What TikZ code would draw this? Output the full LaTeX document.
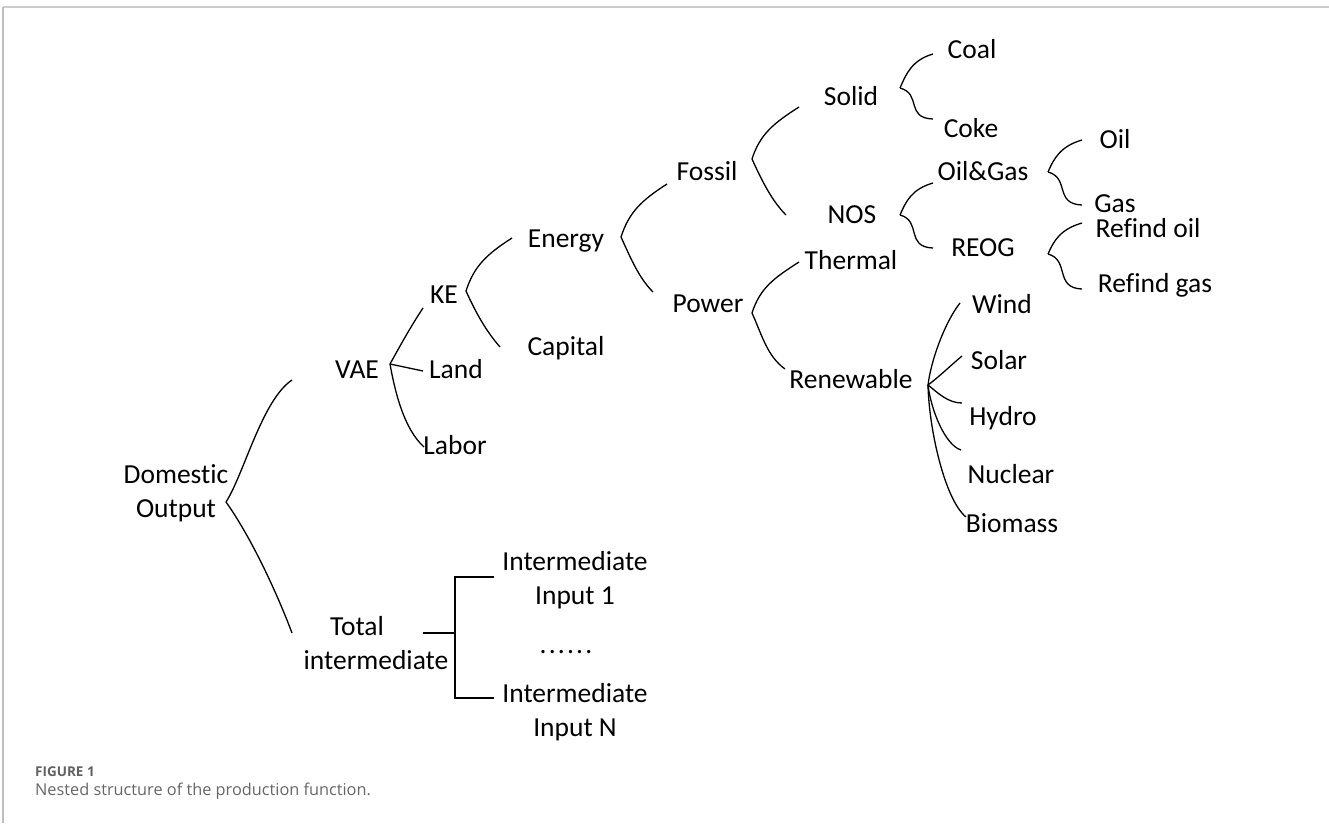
\documentclass[tikz,border=0pt]{standalone}
\usepackage{fontspec}
\setmainfont{Carlito}[Ligatures=NoCommon]
\newfontfamily\capfont{Open Sans}
\begin{document}
\begin{tikzpicture}[x=1pt,y=-1pt,
  lbl/.style={anchor=base, inner sep=0pt, align=center, font=\fontsize{27.5}{34}\selectfont},
  conn/.style={line width=1.3pt, black},
  framel/.style={line width=1.6pt, draw=black!20}]
\useasboundingbox (0,0) rectangle (1329,823);
% frame
\draw[framel] (3,7) -- (1329,7);
\draw[framel, draw=black!25] (3,7) -- (3,823);
% nodes (base = baseline of last line)
\node[lbl] (dom) at (176,517) {Domestic\\Output};
\node[lbl] (vae) at (357,378) {VAE};
\node[lbl] (tot) at (376,669) {\hspace*{-38pt}Total\\intermediate};
\node[lbl] (ke) at (444,303) {KE};
\node[lbl] (land) at (456,378) {Land};
\node[lbl] (labor) at (455,454) {Labor};
\node[lbl] (energy) at (566,247) {Energy};
\node[lbl] (capital) at (566,355) {Capital};
\node[lbl] (fossil) at (707,180) {Fossil};
\node[lbl] (power) at (708,312) {Power};
\node[lbl] (solid) at (851,105) {Solid};
\node[lbl] (nos) at (852,223) {NOS};
\node[lbl] (thermal) at (851,269) {Thermal};
\node[lbl] (renew) at (851,388) {Renewable};
\node[lbl] (coal) at (972,58) {Coal};
\node[lbl] (coke) at (971,137) {Coke};
\node[lbl] (oilgas) at (983,180) {Oil\&Gas};
\node[lbl] (reog) at (983,256) {REOG};
\node[lbl] (oil) at (1115,148) {Oil};
\node[lbl] (gas) at (1115,212) {Gas};
\node[lbl] (roil) at (1148,237) {Refind oil};
\node[lbl] (rgas) at (1155,292) {Refind gas};
\node[lbl] (wind) at (1002,313) {Wind};
\node[lbl] (solar) at (999,369) {Solar};
\node[lbl] (hydro) at (1003,425) {Hydro};
\node[lbl] (nuclear) at (1011,483) {Nuclear};
\node[lbl] (biomass) at (1012,532) {Biomass};
\node[lbl] (int1) at (575,604) {Intermediate\\Input 1};
\node[lbl] (dots) at (566,653) {\addfontfeature{LetterSpace=8}......};
\node[lbl] (intn) at (575,736) {Intermediate\\Input N};
% caption
\node[anchor=base west, inner sep=0pt, text=black!62, font=\capfont\bfseries\fontsize{13.5}{16}\selectfont] (figlbl) at (35,776) {FIGURE 1};
\node[anchor=base west, inner sep=0pt, text=black!60, font=\capfont\fontsize{16.3}{19}\selectfont] (caption) at (35,795) {Nested structure of the production function.};
% coordinates: tips and ends
\coordinate (tdom) at (226,502);
\coordinate (evae) at (292,380);
\coordinate (etot) at (292,633);
\coordinate (tvae) at (390,364);
\coordinate (eke) at (423,308);
\coordinate (eland) at (423,371);
\coordinate (elabor) at (424,447);
\coordinate (tke) at (466,291);
\coordinate (eenergy) at (512,238);
\coordinate (ecapital) at (500,347);
\coordinate (tenergy) at (621,237);
\coordinate (efossil) at (667,184);
\coordinate (epower) at (653,292);
\coordinate (tfossil) at (752,159);
\coordinate (esolid) at (799,107);
\coordinate (enos) at (786,215);
\coordinate (tpower) at (752,313);
\coordinate (ethermal) at (799,262);
\coordinate (erenew) at (785,369);
\coordinate (trenew) at (928,385);
\coordinate (ewind) at (960,303);
\coordinate (esolar) at (962,356);
\coordinate (ehydro) at (962,403);
\coordinate (enuclear) at (961,450);
\coordinate (ebiomass) at (966,517);
\coordinate (ttot) at (423,633);
\coordinate (bmid) at (455,633);
\coordinate (btop) at (455,577);
\coordinate (bbot) at (455,698);
\coordinate (eint1) at (494,577);
\coordinate (eintn) at (494,698);
% connectors
\draw[conn] (tdom) .. controls +(18,-28) and +(-30,20) .. (evae);
\draw[conn] (tdom) .. controls +(25,35) and +(-15,-40) .. (etot);
\draw[conn] (tvae) .. controls +(10,-18) and +(-12,18) .. (eke);
\draw[conn] (tvae) -- (eland);
\draw[conn] (tvae) .. controls +(5,28) and +(-20,-18) .. (elabor);
\draw[conn] (tke) .. controls +(8,-25) and +(-25,16) .. (eenergy);
\draw[conn] (tke) .. controls +(10,22) and +(-14,-16) .. (ecapital);
\draw[conn] (tenergy) .. controls +(8,-25) and +(-25,16) .. (efossil);
\draw[conn] (tenergy) .. controls +(10,22) and +(-14,-14) .. (epower);
\draw[conn] (tfossil) .. controls +(8,-25) and +(-25,16) .. (esolid);
\draw[conn] (tfossil) .. controls +(10,22) and +(-14,-14) .. (enos);
\draw[conn] (tpower) .. controls +(8,-25) and +(-25,16) .. (ethermal);
\draw[conn] (tpower) .. controls +(10,22) and +(-18,-13) .. (erenew);
% curly braces
\coordinate (tbsolid) at (900,88);
\coordinate (tbnos) at (900,215);
\coordinate (tbog) at (1048,172);
\coordinate (tbreog) at (1048,254);
\coordinate (eb1u) at (933,54);   \coordinate (eb1l) at (933,119);
\coordinate (eb2u) at (933,183);  \coordinate (eb2l) at (933,248);
\coordinate (eb3u) at (1082,140); \coordinate (eb3l) at (1082,205);
\coordinate (eb4u) at (1082,223); \coordinate (eb4l) at (1082,289);
\draw[conn] (tbsolid) .. controls +(6,-14) and +(-21,6) .. (eb1u);
\draw[conn] (tbsolid) .. controls +(22,6) and +(-28,-1) .. (eb1l);
\draw[conn] (tbnos) .. controls +(6,-14) and +(-21,6) .. (eb2u);
\draw[conn] (tbnos) .. controls +(22,6) and +(-28,-1) .. (eb2l);
\draw[conn] (tbog) .. controls +(6,-14) and +(-21,6) .. (eb3u);
\draw[conn] (tbog) .. controls +(22,6) and +(-28,-1) .. (eb3l);
\draw[conn] (tbreog) .. controls +(6,-14) and +(-21,6) .. (eb4u);
\draw[conn] (tbreog) .. controls +(22,6) and +(-28,-1) .. (eb4l);
% renewable fan
\draw[conn] (trenew) .. controls +(3,-25) and +(-15,19) .. (ewind);
\draw[conn] (trenew) .. controls +(12,-9) and +(-12,10) .. (esolar);
\draw[conn] (trenew) .. controls +(10,8) and +(-14,0) .. (ehydro);
\draw[conn] (trenew) .. controls +(3,25) and +(-16,-5) .. (enuclear);
\draw[conn] (trenew) .. controls +(1,45) and +(-21,-17) .. (ebiomass);
% bracket
\draw[conn] (ttot) -- (bmid);
\draw[conn] (eint1) -- (btop) -- (bbot) -- (eintn);
\end{tikzpicture}
\end{document}
